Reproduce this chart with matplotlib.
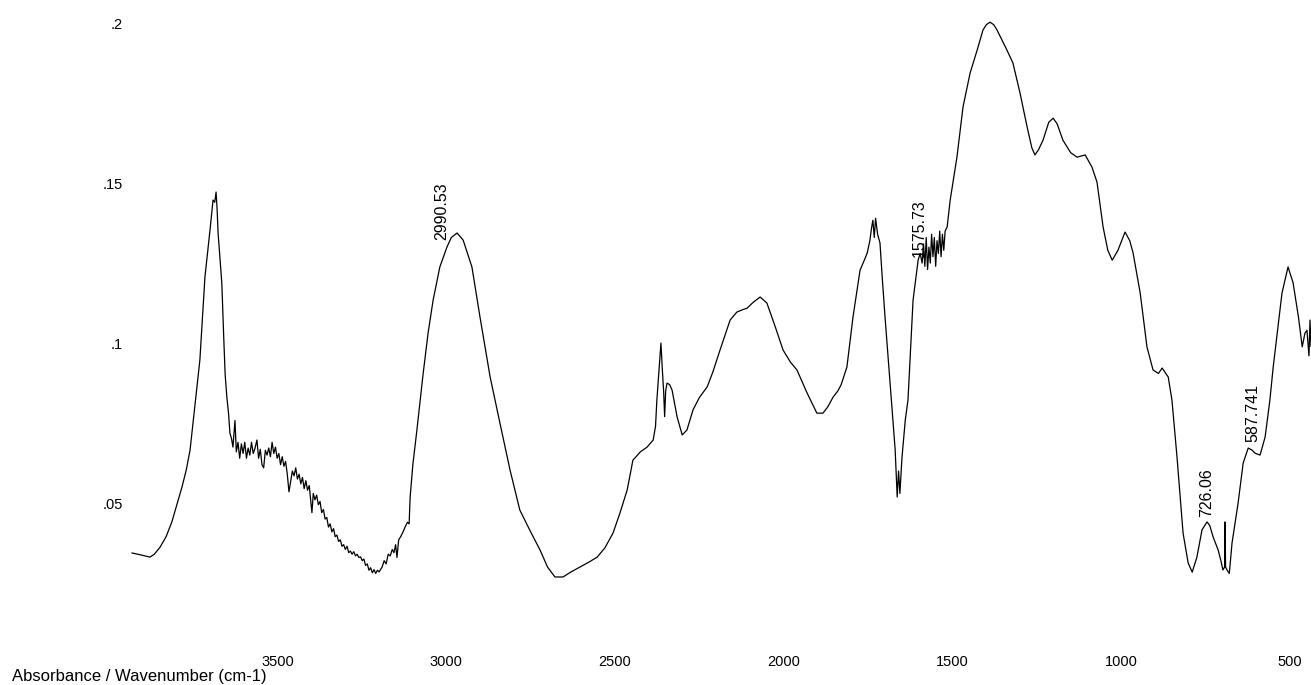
import matplotlib
matplotlib.use("Agg")
import matplotlib.pyplot as plt

plt.rcParams['font.family'] = ['Liberation Sans', 'DejaVu Sans']

# spectrum (wavenumber cm-1, absorbance)
wavenumber = [
    3931, 3905, 3878, 3865, 3848, 3830, 3813, 3798, 3783, 3770, 3759, 3744, 3730, 3715, 3700, 3691,
    3686, 3682, 3679, 3676, 3665, 3659, 3655, 3650, 3645, 3641, 3636, 3632,
    3626, 3622, 3617, 3612, 3607, 3602, 3597, 3592, 3587, 3582, 3577, 3572, 3567, 3561, 3556, 3551,
    3546, 3541, 3536, 3531, 3526, 3521, 3516, 3511, 3506, 3501, 3496, 3491, 3486, 3481, 3476, 3471,
    3466, 3456, 3451, 3446, 3441, 3436, 3431, 3426, 3421, 3416, 3411, 3406, 3398, 3394, 3389, 3384,
    3379, 3374, 3369, 3364, 3359, 3354, 3349, 3344, 3339, 3334, 3329, 3324, 3319, 3314, 3309, 3304,
    3299, 3294, 3289, 3284, 3279, 3274, 3269, 3264, 3259, 3254, 3249, 3244, 3239, 3234, 3229, 3224,
    3219, 3214, 3209, 3204, 3199,
    3190, 3184, 3178, 3172, 3166, 3160, 3155, 3150, 3146, 3141, 3135, 3128, 3122, 3115, 3110, 3107,
    3099, 3087, 3069, 3054, 3039, 3019, 2998, 2985, 2968, 2950, 2924, 2900, 2870, 2841, 2811, 2782,
    2750, 2722, 2700, 2678, 2654, 2630, 2604, 2578, 2553, 2530, 2506, 2485, 2464, 2447, 2425, 2405,
    2387, 2380, 2376, 2370, 2364, 2360, 2356, 2353, 2350, 2346, 2338, 2331, 2316, 2301, 2287, 2269,
    2250, 2227, 2210, 2189, 2159, 2139, 2120, 2109, 2090, 2070, 2050, 2025, 2002, 1980, 1961, 1931,
    1902, 1884, 1870, 1854, 1840, 1830, 1813, 1795, 1774, 1765, 1753, 1745, 1740, 1736, 1732, 1728,
    1722, 1715, 1708, 1700, 1685, 1670, 1664, 1660, 1656, 1650, 1645, 1640, 1632, 1617, 1602, 1596,
    1590, 1586, 1582, 1578, 1574, 1570, 1566, 1562, 1558, 1554, 1550, 1546, 1542, 1538, 1534, 1530,
    1526, 1522, 1516, 1507, 1487, 1469, 1448, 1427, 1410, 1400, 1389, 1378, 1368, 1339, 1321, 1300,
    1279, 1265, 1256, 1245, 1232, 1215, 1202, 1190, 1173, 1150, 1131, 1107, 1087, 1072, 1054, 1040,
    1027, 1010, 989, 975, 965, 944, 924, 906, 890, 879, 861, 850, 835, 817, 802, 790,
    776, 761, 746, 738, 728, 713, 705, 699, 694, 693, 691, 687, 680, 672, 654, 639,
    624, 612, 604, 589, 574, 560, 550, 524, 506, 491, 475, 464, 456, 450, 444, 441, 438,
]
absorbance = [
    .0344, .0338, .0331, .0340, .0362, .0395, .0441, .0495, .0550, .0605, .0666, .0813, .0947, .1206, .1353, .1447,
    .1440, .1472, .1420, .1344, .1188, .1009, .0900, .0831, .0780, .0719, .0700, .0675,
    .0758, .0660, .0690, .0640, .0685, .0655, .0690, .0640, .0672, .0650, .0690, .0655, .0670, .0697, .0640, .0668,
    .0620, .0610, .0665, .0650, .0672, .0645, .0690, .0655, .0675, .0640, .0655, .0620, .0645, .0615, .0630, .0590,
    .0535, .0600, .0585, .0610, .0575, .0590, .0560, .0580, .0545, .0570, .0540, .0555, .0470, .0530, .0510, .0525,
    .0495, .0505, .0470, .0480, .0450, .0455, .0425, .0435, .0410, .0420, .0395, .0400, .0380, .0385, .0365, .0370,
    .0355, .0365, .0345, .0350, .0340, .0348, .0335, .0340, .0330, .0332, .0320, .0325, .0305, .0310, .0290, .0298,
    .0282, .0292, .0280, .0290, .0285,
    .0300, .0320, .0310, .0340, .0335, .0355, .0345, .0370, .0330, .0385, .0395, .0410, .0425, .0440, .0435, .0519,
    .0620, .0728, .0900, .1030, .1134, .1238, .1300, .1330, .1344, .1322, .1238, .1081, .0894, .0750, .0603, .0478,
    .0410, .0353, .0300, .0269, .0269, .0285, .0300, .0315, .0331, .0360, .0406, .0470, .0541, .0634, .0660, .0675,
    .0697, .0740, .0822, .0910, .1000, .0920, .0850, .0770, .0850, .0875, .0870, .0853, .0769, .0713, .0728, .0791,
    .0830, .0863, .0910, .0978, .1072, .1097, .1105, .1109, .1128, .1144, .1125, .1050, .0978, .0940, .0916, .0844,
    .0781, .0781, .0800, .0831, .0850, .0870, .0925, .1081, .1228, .1250, .1281, .1320, .1360, .1384, .1330, .1390,
    .1340, .1313, .1200, .1081, .0875, .0666, .0519, .0600, .0530, .0640, .0700, .0760, .0822, .1134, .1259, .1280,
    .1250, .1310, .1240, .1330, .1230, .1300, .1250, .1340, .1270, .1330, .1240, .1320, .1280, .1350, .1270, .1340,
    .1290, .1350, .1363, .1447, .1581, .1738, .1844, .1916, .1978, .1995, .2003, .1995, .1978, .1916, .1875, .1781,
    .1675, .1610, .1588, .1605, .1634, .1690, .1703, .1685, .1634, .1595, .1581, .1588, .1550, .1503, .1363, .1290,
    .1259, .1290, .1347, .1320, .1281, .1156, .0988, .0916, .0905, .0922, .0894, .0822, .0644, .0406, .0313, .0284,
    .0331, .0416, .0441, .0430, .0394, .0353, .0320, .0291, .0300, .0441, .0300, .0291, .0280, .0375, .0500, .0625,
    .0672, .0665, .0656, .0650, .0706, .0820, .0925, .1156, .1238, .1188, .1080, .0988, .1031, .1040, .0960, .1072, .0990,
]

# marked peaks
peak_wn = [2990.53, 1575.73, 726.06, 587.741]
peak_abs = [0.1322, 0.1269, 0.0456, 0.0691]
peak_text = ["2990.53", "1575.73", "726.06", "587.741"]

x_ticks = [3500, 3000, 2500, 2000, 1500, 1000, 500]
y_ticks = [0.05, 0.1, 0.15, 0.2]
y_ticklabels = [".05", ".1", ".15", ".2"]

fig = plt.figure(figsize=(13.11, 6.85), dpi=100)
ax = fig.add_axes([130 / 1311, 37 / 685, 1181 / 1311, 638 / 685])

ax.plot(wavenumber, absorbance, color='black', linewidth=0.9)

for w, a, t in zip(peak_wn, peak_abs, peak_text):
    ax.text(w, a, t, rotation=90, ha='right', va='bottom', fontsize=11.5)

ax.set_xlim(3937, 438)
ax.set_ylim(0.0047, 0.2041)
ax.set_xticks(x_ticks)
ax.set_yticks(y_ticks)
ax.set_yticklabels(y_ticklabels)
ax.tick_params(length=0, labelsize=10.5)
ax.tick_params(axis='y', pad=5)
ax.tick_params(axis='x', pad=5)
for s in ax.spines.values():
    s.set_visible(False)

fig.text(12 / 1311, 1 - 677 / 685, "Absorbance / Wavenumber (cm-1)", fontsize=12,
         ha='left', va='center')

fig.savefig("out.png", dpi=100)
